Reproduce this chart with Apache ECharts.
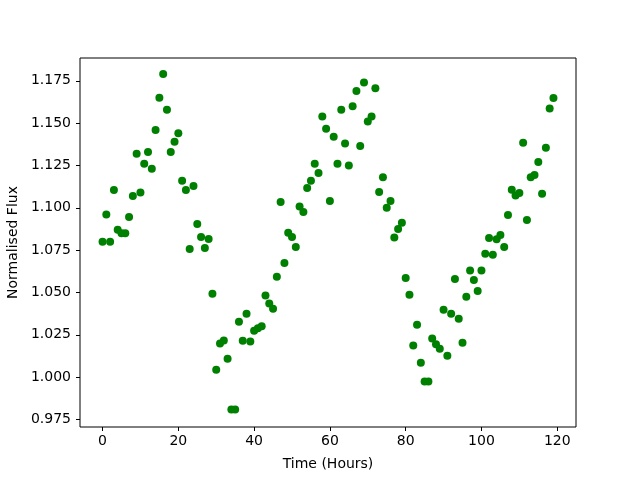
<!DOCTYPE html>
<html>
<head>
<meta charset="utf-8">
<script src="https://cdn.jsdelivr.net/npm/echarts@6/dist/echarts.min.js"></script>
<style>
  html, body { margin: 0; padding: 0; background: #fff; }
  #main { width: 640px; height: 480px; }
</style>
</head>
<body>
<div id="main"></div>
<script>
// time in hours
var hours = [
  0, 1, 2, 3, 4, 5, 6, 7, 8, 9, 10, 11, 12, 13, 14, 15, 16, 17, 18, 19,
  20, 21, 22, 23, 24, 25, 26, 27, 28, 29, 30, 31, 32, 33, 34, 35, 36, 37, 38, 39,
  40, 41, 42, 43, 44, 45, 46, 47, 48, 49, 50, 51, 52, 53, 54, 55, 56, 57, 58, 59,
  60, 61, 62, 63, 64, 65, 66, 67, 68, 69, 70, 71, 72, 73, 74, 75, 76, 77, 78, 79,
  80, 81, 82, 83, 84, 85, 86, 87, 88, 89, 90, 91, 92, 93, 94, 95, 96, 97, 98, 99,
  100, 101, 102, 103, 104, 105, 106, 107, 108, 109, 110, 111, 112, 113, 114, 115, 116, 117, 118, 119
];

// normalised flux
var flux = [
  1.080, 1.096, 1.080, 1.1105, 1.087, 1.085, 1.085, 1.0946, 1.107, 1.132,
  1.109, 1.126, 1.133, 1.123, 1.146, 1.165, 1.179, 1.158, 1.133, 1.139,
  1.144, 1.116, 1.1105, 1.0757, 1.1129, 1.0905, 1.0828, 1.0763, 1.0816, 1.0492,
  1.0043, 1.0198, 1.0216, 1.0108, 0.9809, 0.9809, 1.0327, 1.0214, 1.0374, 1.021,
  1.0273, 1.0289, 1.030, 1.0482, 1.0434, 1.0403, 1.0592, 1.1034, 1.0674, 1.0853,
  1.0828, 1.0769, 1.1007, 1.0975, 1.1117, 1.116, 1.126, 1.1205, 1.154, 1.1467,
  1.104, 1.142, 1.126, 1.158, 1.138, 1.125, 1.160, 1.169, 1.1365, 1.174,
  1.151, 1.154, 1.1707, 1.1093, 1.118, 1.100, 1.104, 1.0824, 1.0875, 1.0912,
  1.0586, 1.0486, 1.0187, 1.0309, 1.0084, 0.9974, 0.9974, 1.0228, 1.0194, 1.0167,
  1.0397, 1.0126, 1.0374, 1.058, 1.0344, 1.0203, 1.0474, 1.0629, 1.0574, 1.0509,
  1.0629, 1.0728, 1.0822, 1.0722, 1.0814, 1.084, 1.0769, 1.0958, 1.1107, 1.1073,
  1.1087, 1.1384, 1.0928, 1.118, 1.1194, 1.127, 1.1083, 1.1355, 1.1587, 1.1648
];

var xTicks = [0, 20, 40, 60, 80, 100, 120];
var yTicks = [0.975, 1.000, 1.025, 1.050, 1.075, 1.100, 1.125, 1.150, 1.175];

var points = hours.map(function (h, i) { return [h, flux[i]]; });

var myChart = echarts.init(document.getElementById('main'));

var font = 'DejaVu Sans';

option = {
    backgroundColor: '#fff',
    animation: false,
    grid: {
        left: 80,
        top: 58,
        width: 496,
        height: 369,
        outerBoundsMode: 'none',
        containLabel: false,
        show: true,
        borderColor: '#000',
        borderWidth: 1,
        backgroundColor: 'transparent'
    },
    xAxis: {
        type: 'value',
        min: -5.95,
        max: 124.95,
        name: 'Time (Hours)',
        nameLocation: 'middle',
        nameGap: 30,
        nameTextStyle: { color: '#000', fontFamily: font, fontSize: 14 },
        axisLine: { show: false, onZero: false },
        splitLine: { show: false },
        axisTick: {
            show: true,
            length: 4,
            customValues: xTicks,
            lineStyle: { color: '#000' }
        },
        axisLabel: {
            customValues: xTicks,
            margin: 7,
            color: '#000',
            fontFamily: font,
            fontSize: 14
        }
    },
    yAxis: {
        type: 'value',
        min: 0.9705,
        max: 1.1885,
        name: 'Normalised Flux',
        nameLocation: 'middle',
        nameGap: 54,
        nameTextStyle: { color: '#000', fontFamily: font, fontSize: 14 },
        axisLine: { show: false, onZero: false },
        splitLine: { show: false },
        axisTick: {
            show: true,
            length: 4,
            customValues: yTicks,
            lineStyle: { color: '#000' }
        },
        axisLabel: {
            customValues: yTicks,
            margin: 9,
            color: '#000',
            fontFamily: font,
            fontSize: 14,
            formatter: function (v) { return v.toFixed(3); }
        }
    },
    series: [{
        type: 'scatter',
        data: points,
        symbol: 'circle',
        symbolSize: 8,
        itemStyle: { color: '#008000', opacity: 1 }
    }]
};

myChart.setOption(option);
</script>
</body>
</html>
